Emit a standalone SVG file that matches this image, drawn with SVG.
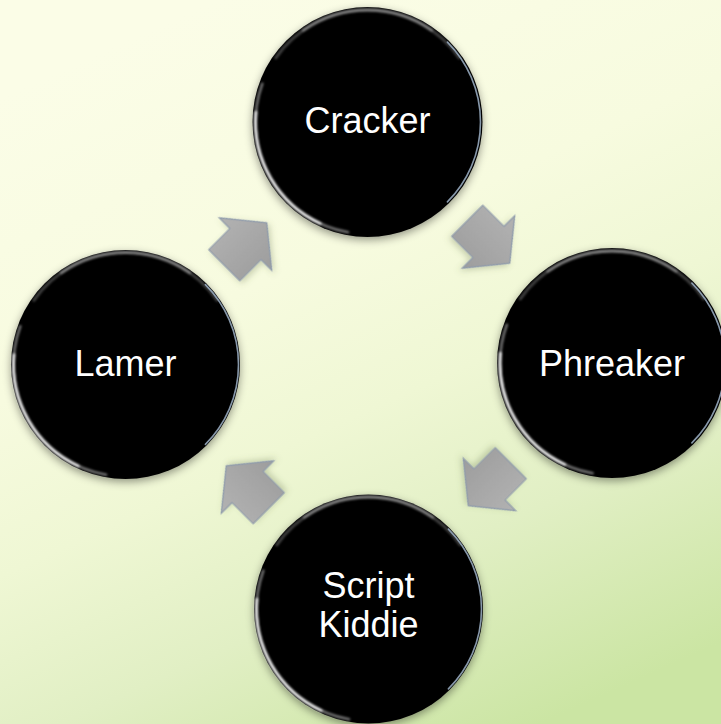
<svg xmlns="http://www.w3.org/2000/svg" width="721" height="724" viewBox="0 0 721 724">
<defs>
<linearGradient id="bg" x1="0.3" y1="0" x2="0.75" y2="1">
<stop offset="0" stop-color="#fbfde7"/>
<stop offset="0.35" stop-color="#f7fbdf"/>
<stop offset="0.55" stop-color="#eff7d4"/>
<stop offset="0.75" stop-color="#e1efc4"/>
<stop offset="1" stop-color="#cbe5a3"/>
</linearGradient>
<linearGradient id="arrowFill" x1="0" y1="0" x2="0" y2="1">
<stop offset="0" stop-color="#b2b2b2"/>
<stop offset="1" stop-color="#9d9d9d"/>
</linearGradient>
<filter id="shadow" x="-20%" y="-20%" width="140%" height="140%">
<feDropShadow dx="0" dy="3" stdDeviation="4" flood-color="#000" flood-opacity="0.4"/>
</filter>
<filter id="soft" x="-20%" y="-20%" width="140%" height="140%">
<feGaussianBlur stdDeviation="0.8"/>
</filter>
<filter id="ashadow" x="-30%" y="-30%" width="160%" height="160%">
<feDropShadow dx="0" dy="3" stdDeviation="3" flood-color="#5a6a40" flood-opacity="0.3"/>
</filter>
<path id="arrow" d="M-30,-22 L0,-22 L0,-37 L30,0 L0,37 L0,22 L-30,22 Z"/>
<g id="rim">
<g filter="url(#soft)" fill="none" stroke-linecap="round">
<path d="M-19.4,110.3 A112 112 0 0 1 -105.2,-38.3" stroke="#ffffff" stroke-width="2.5" stroke-opacity="0.45"/>
<path d="M-47.3,101.5 A112 112 0 0 1 -111.6,-9.8" stroke="#ffffff" stroke-width="3" stroke-opacity="0.9"/>
<path d="M-91.7,-64.2 A112 112 0 0 1 91.7,-64.2" stroke="#b5b5b5" stroke-width="3" stroke-opacity="0.35"/>
<path d="M-64.2,-91.7 A112 112 0 0 1 64.2,-91.7" stroke="#c8c8c8" stroke-width="3" stroke-opacity="0.5"/>
</g>
<path d="M79.9,-79.9 A113 113 0 0 1 79.9,79.9" fill="none" stroke="#9fb3c8" stroke-width="1.6" stroke-opacity="0.85" stroke-linecap="round"/>
</g>
</defs>
<style>
.disc{fill:#000;filter:url(#shadow)}
.lbl{font-family:"Liberation Sans",Arial,sans-serif;font-size:36px;fill:#fff;text-anchor:middle}
.arr{fill:url(#arrowFill);stroke:#8f9bab;stroke-width:1.2;stroke-linejoin:miter;filter:url(#ashadow)}
</style>
<rect x="0" y="0" width="721" height="724" fill="url(#bg)"/>
<g id="connectors">
<use href="#arrow" class="arr" transform="translate(488.5,242) rotate(45)"/>
<use href="#arrow" class="arr" transform="translate(489.5,484.5) rotate(135)"/>
<use href="#arrow" class="arr" transform="translate(247.5,487) rotate(-135)"/>
<use href="#arrow" class="arr" transform="translate(245.5,244) rotate(-45)"/>
</g>
<g id="cracker" transform="translate(367.5,122)">
<circle class="disc" r="115"/>
<use href="#rim"/>
<text class="lbl" x="0" y="11">Cracker</text>
</g>
<g id="phreaker" transform="translate(612,363)">
<circle class="disc" r="115"/>
<use href="#rim"/>
<text class="lbl" x="0" y="13">Phreaker</text>
</g>
<g id="script-kiddie" transform="translate(368.5,609)">
<circle class="disc" r="114.5"/>
<use href="#rim"/>
<text class="lbl" x="0" y="-11">Script</text>
<text class="lbl" x="0" y="28">Kiddie</text>
</g>
<g id="lamer" transform="translate(125.5,364.5)">
<circle class="disc" r="114.5"/>
<use href="#rim"/>
<text class="lbl" x="0" y="11.5">Lamer</text>
</g>
</svg>
